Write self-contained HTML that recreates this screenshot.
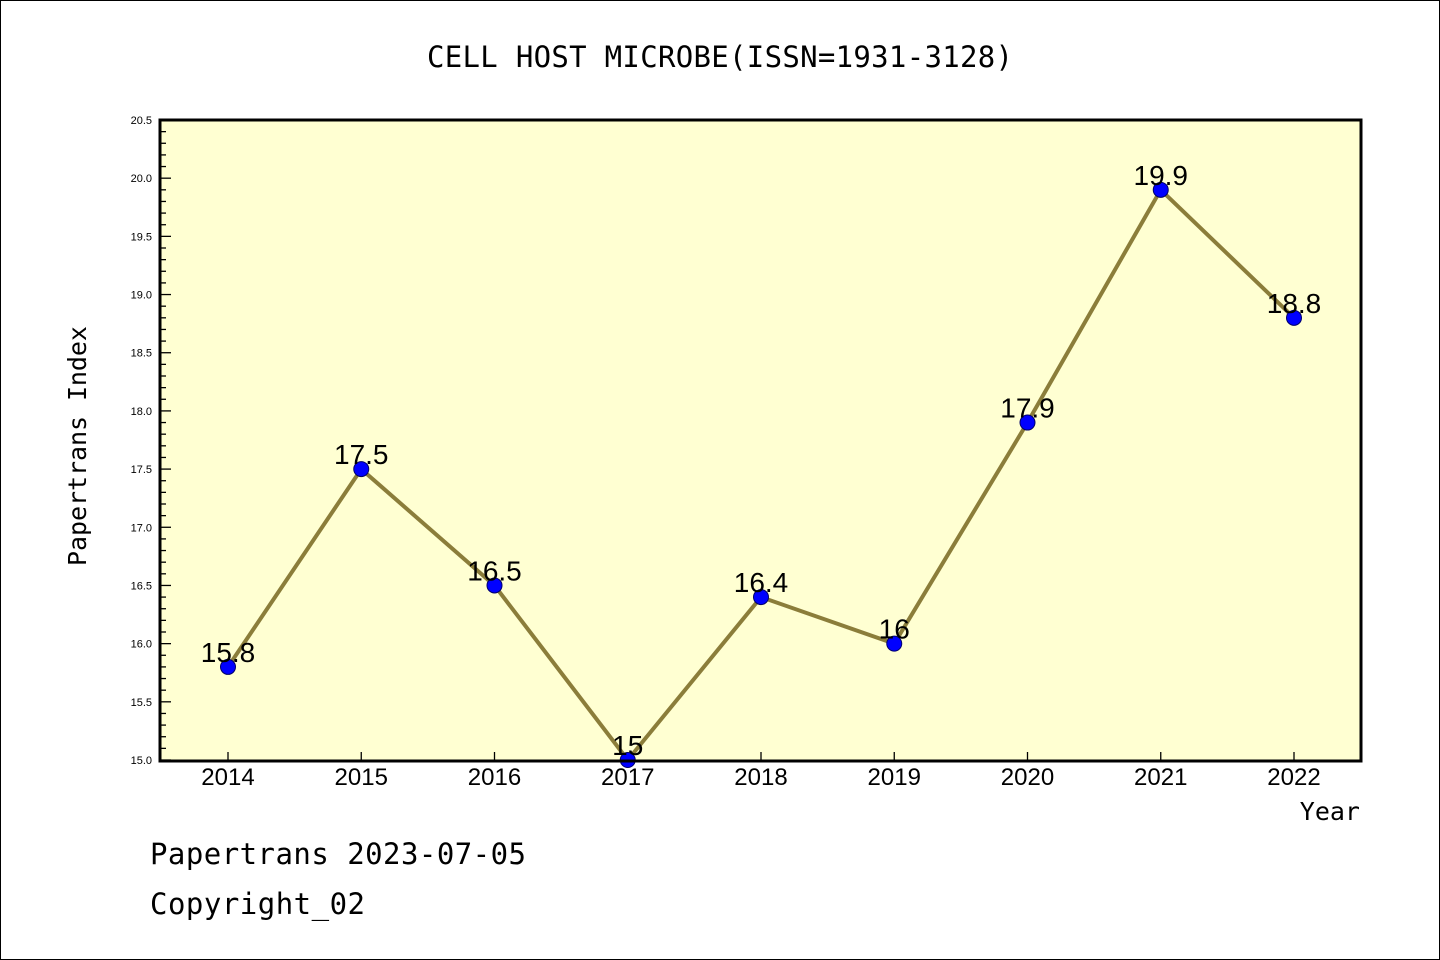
<!DOCTYPE html>
<html><head><meta charset="utf-8"><style>
body{margin:0;background:#fff}
svg{display:block}
text{font-family:"Liberation Sans","DejaVu Sans",sans-serif}
</style></head><body>
<svg id="chart" width="1440" height="960">
<rect x="0.5" y="0.5" width="1439" height="959" fill="#fff" stroke="#000"/>
<text x="720" y="67" text-anchor="middle" font-size="29" textLength="586" style="font-family:'DejaVu Sans Mono','Liberation Mono',monospace">CELL HOST MICROBE(ISSN=1931-3128)</text>
<rect x="160" y="120" width="1201" height="641" fill="#ffffd2"/>
<g id="ticks"></g>
<g id="series"></g>
<rect x="160" y="120" width="1201" height="641" fill="none" stroke="#000" stroke-width="3"/>
<text x="86" y="446" text-anchor="middle" font-size="25" textLength="240" transform="rotate(-90 86 446)" style="font-family:'DejaVu Sans Mono','Liberation Mono',monospace">Papertrans Index</text>
<text x="1360" y="820" text-anchor="end" font-size="25" style="font-family:'DejaVu Sans Mono','Liberation Mono',monospace">Year</text>
<text x="150" y="864" font-size="29" textLength="376" style="font-family:'DejaVu Sans Mono','Liberation Mono',monospace">Papertrans 2023-07-05</text>
<text x="150" y="914" font-size="29" textLength="215" style="font-family:'DejaVu Sans Mono','Liberation Mono',monospace">Copyright_02</text>
</svg>
<script>
const years=["2014","2015","2016","2017","2018","2019","2020","2021","2022"];
const values=[15.8,17.5,16.5,15.0,16.4,16.0,17.9,19.9,18.8];
const labels=["15.8","17.5","16.5","15","16.4","16","17.9","19.9","18.8"];
const yTicks=["15.0","15.5","16.0","16.5","17.0","17.5","18.0","18.5","19.0","19.5","20.0","20.5"];
{
const NS="http://www.w3.org/2000/svg";
const yMin=15,yMax=20.5,plotTop=120,plotBot=760;
const y=v=>plotBot-(v-yMin)/(yMax-yMin)*(plotBot-plotTop);
const x=i=>228+i*133.25;
const tg=document.getElementById('ticks'),sg=document.getElementById('series');
function mk(tag,a,p){const e=document.createElementNS(NS,tag);for(const k in a)e.setAttribute(k,a[k]);p.appendChild(e);return e;}
for(let k=0;k<=55;k++){const v=yMin+k*0.1;const major=k%5===0;
 const l=mk('line',{x1:160,x2:major?171:166,y1:y(v),y2:y(v),stroke:'#000','stroke-width':1.3},tg);
 
 }
yTicks.forEach(t=>{const e=mk('text',{x:152,y:y(+t)+4,'text-anchor':'end','font-size':11},tg);e.textContent=t;
 
 });
years.forEach((yr,i)=>{const l=mk('line',{x1:x(i),x2:x(i),y1:760,y2:752,stroke:'#000','stroke-width':1.3},tg);
 
 
 const e=mk('text',{x:x(i),y:785,'text-anchor':'middle','font-size':24},tg);e.textContent=yr;
 
 });
const pl=mk('polyline',{points:values.map((v,i)=>x(i)+','+y(v)).join(' '),fill:'none',stroke:'#8b7d3a','stroke-width':4},sg);


values.forEach((v,i)=>{const c=mk('circle',{cx:x(i),cy:y(v),r:7.5,fill:'#0000ff',stroke:'#00006a','stroke-width':1},sg);
 
 
 const t=mk('text',{x:x(i),y:y(v)-5,'text-anchor':'middle','font-size':28},sg);t.textContent=labels[i];
 
 });
}
</script>
</body></html>
